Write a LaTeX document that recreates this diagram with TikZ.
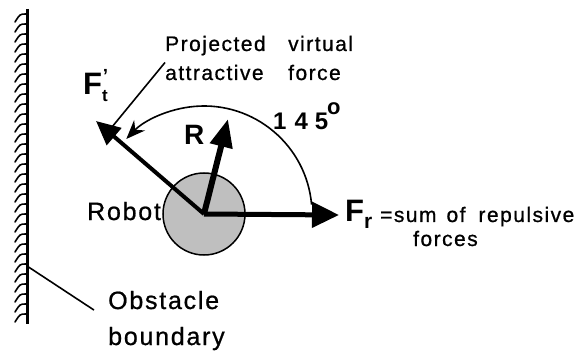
\documentclass[tikz,border=0pt]{standalone}
\usepackage{fontspec}
\setmainfont{Liberation Sans}
\newfontfamily\spacedfont[LetterSpace=7,FakeBold=0.8]{Liberation Sans}
\usetikzlibrary{arrows.meta}

\tikzset{
  txt/.style={inner sep=0, anchor=base west, font=\fontsize{#1}{#1}\selectfont\spacedfont},
  txt/.default=20,
  bold/.style={inner sep=0, anchor=base west, font=\fontsize{#1}{#1}\selectfont\bfseries},
  force/.style={line width=#1, draw=black},
  leader/.style={line width=1.6pt},
}

\begin{document}
\begin{tikzpicture}[x=1pt,y=-1pt]
  \useasboundingbox (0,0) rectangle (582,353);
  % obstacle wall and its hatching
  \coordinate (walltop) at (27,9);
  \coordinate (wallbot) at (27,324);
  \draw[line width=3pt] (walltop) -- (wallbot);
  \foreach \y in {14,24,...,314}{
    \draw[line width=1.6pt,line cap=round] (26,\y) .. controls (20,\y) .. (15,\y+8);}
  % robot body
  \node[circle, draw, line width=1.5pt, fill=gray!50, minimum size=82pt, inner sep=0] (robot) at (204,214) {};
  % tips of the forces
  \coordinate (frtip) at (339,215);
  \coordinate (rtip) at (228,119);
  \coordinate (fttip) at (96,121);
  \draw[force=5pt, -{Triangle[length=27pt,width=25pt]}] (robot.center) -- (frtip);
  \draw[force=6pt, -{Triangle[length=28pt,width=22pt]}] (robot.center) -- (rtip);
  \draw[force=4pt, -{Triangle[length=24pt,width=22pt]}] (robot.center) -- (fttip);
  % angle between the forces
  \draw[line width=1.6pt, -{Stealth[length=19pt,width=15pt]}]
    (robot.center) ++(-5:108) arc[start angle=-5, end angle=-136, radius=108];
  % labels
  \node[bold=31] (ftlbl) at (83,95) {F\raisebox{-7pt}{\fontsize{17}{17}\selectfont t}\hspace{-5pt}\raisebox{12pt}{\fontsize{19}{19}\selectfont '}};
  \node[bold=28] (rlbl) at (184,145) {R};
  \node[bold=31] (frlbl) at (345,222) {F\raisebox{-7pt}{\fontsize{21}{21}\selectfont r}};
  \node[bold=24] (anglbl) at (273,130) {1\hspace{8pt}4\hspace{7pt}5\hspace{-1pt}\raisebox{16pt}{\fontsize{22}{22}\selectfont o}};
  \node[txt=21] (proj1) at (165,51) {\makebox[123pt][l]{Projected}virtual};
  \node[txt=21] (proj2) at (165,80) {\makebox[123pt][l]{attractive}force};
  \node[txt=21] (sumlbl) at (380,222) {=sum\hspace{10pt}of\hspace{13pt}repulsive};
  \node[txt=21] (forceslbl) at (413,246) {forces};
  \node[txt=25] (robotlbl) at (87,220) {Robot};
  \node[txt=25] (obst1) at (108,309) {Obstacle};
  \node[txt=25] (obst2) at (108,345) {boundary};
  % leader lines
  \coordinate (projend) at (112,127);
  \draw[leader] (proj2.west) ++(0,-10) coordinate (projstart) -- (projend);
  \coordinate (wallpt) at (27,266);
  \draw[leader] (wallpt) -- ([xshift=-14pt,yshift=-10pt]obst1.west);
\end{tikzpicture}
\end{document}
